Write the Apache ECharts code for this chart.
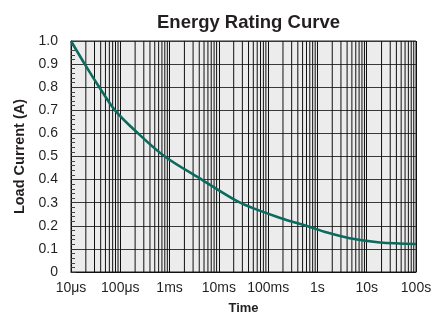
<!DOCTYPE html>
<html>
<head>
<meta charset="utf-8">
<script src="https://cdn.jsdelivr.net/npm/echarts@6/dist/echarts.min.js"></script>
<style>html,body{margin:0;padding:0;background:#fff}#c{width:431px;height:314px}</style>
</head>
<body>
<div id="c"></div>
<script>
// Time (seconds) and load current (A)
var times = [1e-5, 1.9e-5, 3.75e-5, 7.8e-5, 2.3e-4, 8e-4, 4.5e-3, 2.7e-2, 0.17, 0.7, 1.5, 4.5, 18.6, 100];
var currents = [1.0, 0.9, 0.8, 0.7, 0.6, 0.5, 0.4, 0.3, 0.235, 0.195, 0.172, 0.146, 0.128, 0.121];
var xTickLabels = ['10\u03bcs', '100\u03bcs', '1ms', '10ms', '100ms', '1s', '10s', '100s'];
var decadeStarts = [1e-5, 1e-4, 1e-3, 1e-2, 1e-1, 1, 10];
var minorMultipliers = [2, 3, 4, 5, 6, 7, 8, 9];
var yRange = [0, 1];

var curve = times.map(function (t, i) { return [t, currents[i]]; });

var font = 'Liberation Sans, Arial, Helvetica, sans-serif';
var series = [];
decadeStarts.forEach(function (d) {
  minorMultipliers.forEach(function (m) {
    var t = d * m;
    series.push({
      type: 'line', data: [[t, yRange[0]], [t, yRange[1]]], symbol: 'none', silent: true, z: 1,
      lineStyle: { color: '#111', width: 1 }
    });
  });
});
series.push({
  type: 'line', data: curve, symbol: 'none', smooth: 0.3, z: 5,
  lineStyle: { color: '#0c6a5e', width: 2.6 }
});

var chart = echarts.init(document.getElementById('c'), null, { renderer: 'canvas' });
chart.setOption({
  animation: false,
  title: {
    text: 'Energy Rating Curve',
    left: 152, top: 8,
    textStyle: { fontFamily: font, fontSize: 18.5, fontWeight: 'bold', color: '#231f20' }
  },
  grid: {
    left: 71, right: 15, top: 41, bottom: 42,
    outerBoundsMode: 'none', containLabel: false,
    show: true, backgroundColor: '#ececec', borderColor: '#222', borderWidth: 1
  },
  xAxis: {
    type: 'log', logBase: 10, min: 1e-5, max: 100,
    splitNumber: 7,
    name: 'Time', nameLocation: 'middle', nameGap: 30,
    nameTextStyle: { fontFamily: font, fontSize: 13, fontWeight: 'bold', color: '#231f20' },
    axisLine: { show: true, lineStyle: { color: '#111', width: 1 } },
    axisTick: { show: false },
    axisLabel: {
      margin: 9, fontFamily: font, fontSize: 14, color: '#231f20',
      formatter: function (v) {
        var i = Math.round(Math.log10(v)) + 5;
        return xTickLabels[i] || '';
      }
    },
    splitLine: { show: true, lineStyle: { color: '#111', width: 1 } }
  },
  yAxis: {
    type: 'value', min: yRange[0], max: yRange[1], interval: 0.1,
    name: 'Load Current (A)', nameLocation: 'middle', nameGap: 43,
    nameTextStyle: { fontFamily: font, fontSize: 14.5, fontWeight: 'bold', color: '#231f20' },
    axisLine: { show: true, lineStyle: { color: '#111', width: 1 } },
    axisTick: { show: true, inside: true, length: 5, lineStyle: { color: '#333' } },
    minorTick: { show: true, splitNumber: 5, length: 4, lineStyle: { color: '#444', width: 1 } },
    axisLabel: {
      margin: 13, fontFamily: font, fontSize: 14, color: '#231f20',
      formatter: function (v) { return v === 0 ? '0' : v.toFixed(1); }
    },
    splitLine: { show: true, lineStyle: { color: '#3a3a3a', width: 1.2 } }
  },
  series: series
});
</script>
</body>
</html>
